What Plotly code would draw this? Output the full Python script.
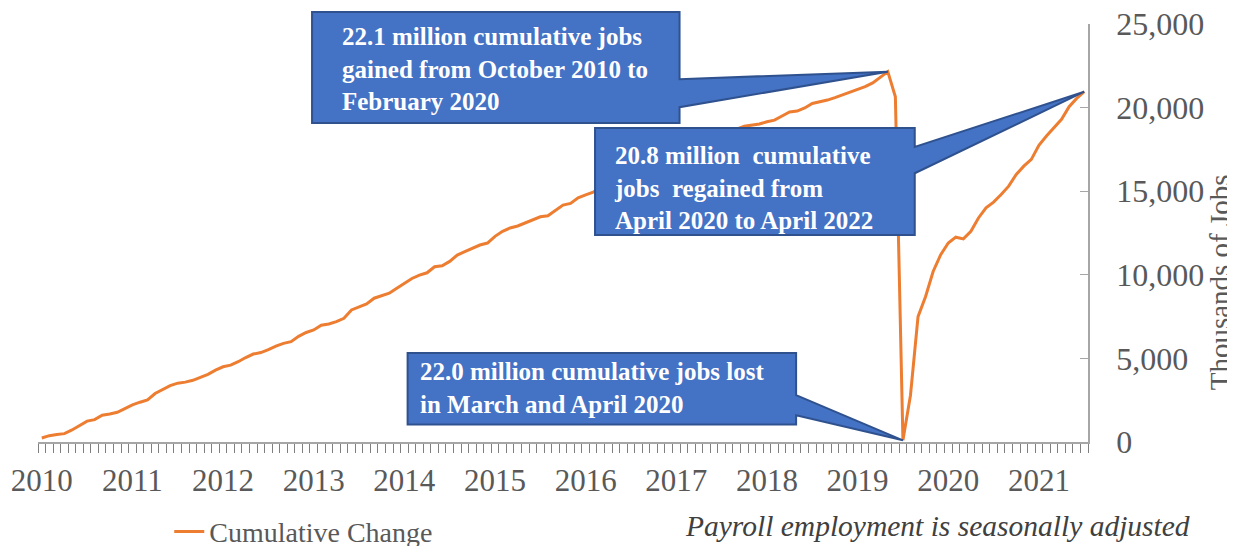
import plotly.graph_objects as go

# monthly cumulative change in payroll employment, thousands (Oct 2010 .. Apr 2022)
cumulative_change = [
    240, 380, 450, 500, 720, 980, 1250, 1340, 1600, 1680, 1780, 2000,
    2220, 2380, 2520, 2900, 3150, 3370, 3520, 3580, 3690, 3850, 4050, 4300,
    4500, 4600, 4800, 5050, 5260, 5350, 5520, 5740, 5900, 6000, 6320, 6550,
    6700, 6980, 7060, 7200, 7400, 7900, 8100, 8260, 8600, 8760, 8900, 9200,
    9480, 9780, 9980, 10120, 10480, 10540, 10800, 11180, 11380, 11560, 11780, 11900,
    12300, 12600, 12800, 12920, 13100, 13300, 13470, 13530, 13830, 14170, 14270, 14600,
    14780, 14950, 15200, 15380, 15520, 15760, 15900, 16120, 16350, 16500, 16700, 16880,
    17050, 17250, 17480, 17620, 17850, 18020, 18200, 18460, 18720, 18880, 18950, 19020,
    19150, 19250, 19500, 19740, 19790, 19980, 20250, 20350, 20450, 20600, 20760, 20900,
    21050, 21250, 21480, 21800, 22150, 20650, 100, 2800, 7500, 8700, 10200, 11200,
    11900, 12250, 12150, 12600, 13400, 14000, 14350, 14800, 15300, 16000, 16500, 16900,
    17750, 18300, 18800, 19300, 20050, 20550, 20950,
]
year_labels = ["2010", "2011", "2012", "2013", "2014", "2015",
               "2016", "2017", "2018", "2019", "2020", "2021"]
y_ticks = [0, 5000, 10000, 15000, 20000, 25000]

months = list(range(len(cumulative_change)))
n = len(months)
year_pos = [i * 12 for i in range(len(year_labels))]

callout_text = [
    "22.1 million cumulative jobs<br>gained from October 2010 to<br>February 2020",
    "20.8 million  cumulative<br>jobs  regained from<br>April 2020 to April 2022",
    "22.0 million cumulative jobs lost<br>in March and April 2020",
]

SERIF = "Liberation Serif, Times New Roman, serif"
GRAY = "#595959"
Y_MAX = 25000

fig = go.Figure()
fig.add_trace(go.Scatter(
    x=months, y=cumulative_change, mode="lines",
    line=dict(color="#ED7D31", width=3),
    name="Cumulative Change",
))

# tips of the callouts point at peak, trough and last month
peak_i = cumulative_change.index(max(cumulative_change))
trough_i = peak_i + cumulative_change[peak_i:].index(min(cumulative_change[peak_i:]))
last_i = n - 1


def to_paper(i, v):
    return (i + 0.5) / n, v / Y_MAX


tips = [to_paper(peak_i, cumulative_change[peak_i]),
        to_paper(last_i, cumulative_change[last_i]),
        to_paper(trough_i, cumulative_change[trough_i])]

# box: x0, x1, y_top, y_bottom, wedge top, wedge bottom (paper coords)
boxes = [
    (0.261, 0.611, 1.029, 0.763, 0.868, 0.801),
    (0.5305, 0.835, 0.751, 0.495, 0.706, 0.643),
    (0.352, 0.722, 0.213, 0.042, 0.112, 0.064),
]
text_pos = [(0.2876, 0.892), (0.5467, 0.607), (0.3619, 0.1286)]

for (x0, x1, yt, yb, w1, w2), (tx, ty), txt, (px, py) in zip(boxes, text_pos, callout_text, tips):
    path = (f"M {x0},{yt} L {x1},{yt} L {x1},{w1} L {px},{py} L {x1},{w2} "
            f"L {x1},{yb} L {x0},{yb} Z")
    fig.add_shape(type="path", path=path, xref="paper", yref="paper",
                  fillcolor="#4472C4", line=dict(color="#2F528F", width=2),
                  layer="above")
    fig.add_annotation(text=txt, x=tx, y=ty, xref="paper", yref="paper",
                       xanchor="left", yanchor="middle", align="left",
                       showarrow=False,
                       font=dict(family=SERIF, size=25, color="white", weight="bold"))

fig.add_annotation(text="<i>Payroll employment is seasonally adjusted</i>",
                   x=(1192 - 38) / 1050, y=-0.2, xref="paper", yref="paper",
                   xanchor="right", yanchor="middle", showarrow=False,
                   font=dict(family=SERIF, size=29.5, color="#404040"))

fig.add_annotation(text="Thousands of Jobs", textangle=-90,
                   x=(1220 - 38) / 1050, y=0.382, xref="paper", yref="paper",
                   xanchor="center", yanchor="middle", showarrow=False,
                   font=dict(family=SERIF, size=29, color=GRAY))

# page body adds 8px, so margins are pulled in by that much
fig.update_layout(
    width=1235, height=546,
    margin=dict(l=30, r=155, t=16, b=112, autoexpand=False),
    plot_bgcolor="white", paper_bgcolor="white",
    font=dict(family=SERIF, color=GRAY),
    showlegend=True,
    legend=dict(orientation="h", x=0.125, y=-0.215, xanchor="left", yanchor="middle",
                font=dict(family=SERIF, size=28, color=GRAY)),
    xaxis=dict(
        range=[-0.5, n - 0.5], tickmode="array", tickvals=year_pos, ticktext=year_labels,
        ticks="", showgrid=False, zeroline=False, automargin=False,
        showline=True, linecolor="#A6A6A6", linewidth=1.5,
        tickfont=dict(family=SERIF, size=31, color=GRAY),
        ticklabelstandoff=10, ticklabeloverflow="allow",
        minor=dict(ticks="outside", tickmode="linear", tick0=-0.5, dtick=1,
                   ticklen=9, tickcolor="#7F7F7F", tickwidth=1, showgrid=False),
    ),
    yaxis=dict(
        range=[0, Y_MAX], side="right", tickmode="array", tickvals=y_ticks,
        tickformat=",", ticks="inside", ticklen=8, tickcolor="#A6A6A6",
        showgrid=False, zeroline=False, automargin=False,
        showline=True, linecolor="#A6A6A6", linewidth=1.5,
        tickfont=dict(family=SERIF, size=32, color=GRAY),
        ticklabelstandoff=20, ticklabeloverflow="allow",
    ),
)

fig.write_html("out.html")
